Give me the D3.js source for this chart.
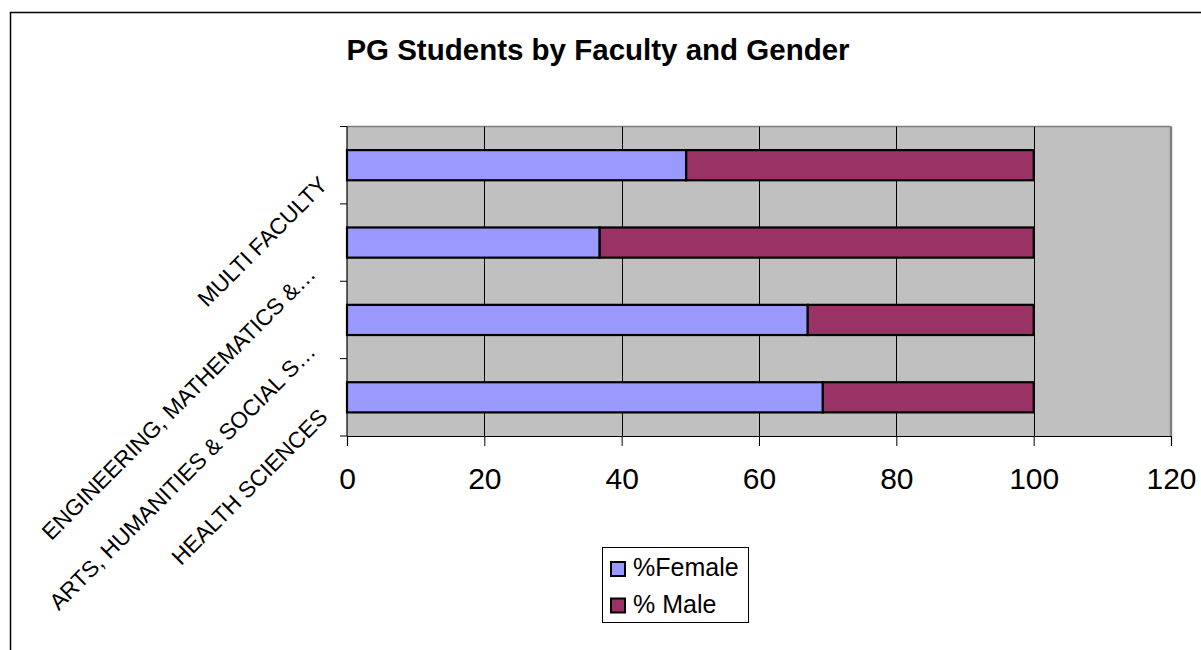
<!DOCTYPE html>
<html><head><meta charset="utf-8">
<script src="https://cdn.jsdelivr.net/npm/d3@7"></script>
<style>
html,body{margin:0;padding:0;background:#fff;}
svg{display:block;font-family:Arial,"Liberation Sans",sans-serif;}
</style></head>
<body>
<svg id="chart" width="1201" height="650"></svg>
<script>
const categories = ["MULTI FACULTY", "ENGINEERING, MATHEMATICS &…", "ARTS, HUMANITIES & SOCIAL S…", "HEALTH SCIENCES"];
const femaleValues = [49.4, 36.8, 67.1, 69.3];
const maleValues = [50.6, 63.2, 32.9, 30.7];
const seriesNames = ["%Female", "% Male"];
const seriesColors = ["#9999ff", "#993366"];
const xTicks = [0, 20, 40, 60, 80, 100, 120];
const title = "PG Students by Faculty and Gender";

const svg = d3.select("#chart");
const L = 347, R = 1171, T = 126.5, B = 436;

// outer frame
svg.append("rect").attr("x", 10.5).attr("y", 12.5).attr("width", 1300).attr("height", 800)
  .attr("fill", "none").attr("stroke", "#000").attr("stroke-width", 1.5);

svg.append("text").attr("x", 598).attr("y", 60).attr("text-anchor", "middle")
  .attr("font-size", 29.5).attr("font-weight", "bold").text(title);

const x = d3.scaleLinear().domain([0, 120]).range([L, R]);
const y = d3.scaleBand().domain(categories).range([T, B]).paddingInner(0.61).paddingOuter(0.305);

// plot area
svg.append("rect").attr("x", L).attr("y", T).attr("width", R - L).attr("height", B - T).attr("fill", "#c0c0c0");
svg.append("line").attr("x1", L).attr("x2", R).attr("y1", T).attr("y2", T).attr("stroke", "#808080").attr("stroke-width", 1.5);
svg.append("line").attr("x1", R).attr("x2", R).attr("y1", T).attr("y2", B).attr("stroke", "#808080").attr("stroke-width", 2.5);

// gridlines
svg.append("g").selectAll("line").data(xTicks.filter(d => d > 0 && d < 120)).join("line")
  .attr("x1", d => Math.round(x(d)) + 0.5).attr("x2", d => Math.round(x(d)) + 0.5)
  .attr("y1", T).attr("y2", B).attr("stroke", "#000").attr("stroke-width", 1);

// bars
const rows = categories.map((c, i) => ({cat: c, f: femaleValues[i], m: maleValues[i]}));
const stacked = d3.stack().keys(["f", "m"])(rows);
svg.append("g").selectAll("g").data(stacked).join("g")
  .attr("fill", (d, i) => seriesColors[i])
  .selectAll("rect").data(d => d).join("rect")
  .attr("x", d => x(d[0])).attr("width", d => x(d[1]) - x(d[0]))
  .attr("y", d => y(d.data.cat)).attr("height", y.bandwidth())
  .attr("stroke", "#000").attr("stroke-width", 2.2);

// x axis
const xAxis = svg.append("g").attr("transform", `translate(0,${B})`)
  .call(d3.axisBottom(x).tickValues(xTicks).tickSize(10).tickPadding(22).tickFormat(d3.format("d")));
xAxis.select(".domain").attr("stroke", "#000").attr("stroke-width", 1.2);
xAxis.selectAll(".tick line").attr("stroke", "#000");
xAxis.selectAll("text").attr("font-size", 30).attr("font-family", "Arial, 'Liberation Sans', sans-serif").attr("fill", "#000");

// y axis
const step = y.step();
const bounds = categories.map(c => y(c) + y.bandwidth() / 2 - step / 2).concat([B]);
svg.append("line").attr("x1", L).attr("x2", L).attr("y1", T).attr("y2", B).attr("stroke", "#000").attr("stroke-width", 1.2);
svg.append("g").selectAll("line").data(bounds).join("line")
  .attr("x1", L - 7).attr("x2", L).attr("y1", d => d).attr("y2", d => d).attr("stroke", "#000");

svg.append("g").selectAll("text").data(categories).join("text")
  .attr("transform", d => `translate(${L - 18},${y(d) + y.bandwidth() / 2 + 21}) rotate(-45)`)
  .attr("dx", d => d.endsWith("…") ? -17 : 0)
  .attr("text-anchor", "end").attr("font-size", 22.6).text(d => d);

// legend
const lg = svg.append("g");
lg.append("rect").attr("x", 602.5).attr("y", 547.5).attr("width", 146).attr("height", 75)
  .attr("fill", "#fff").attr("stroke", "#000").attr("stroke-width", 1);
seriesNames.forEach((n, i) => {
  const yy = 562 + i * 36.5;
  lg.append("rect").attr("x", 611).attr("y", yy).attr("width", 14).attr("height", 14)
    .attr("fill", seriesColors[i]).attr("stroke", "#000").attr("stroke-width", 2);
  lg.append("text").attr("x", 633).attr("y", yy + 14).attr("font-size", 25).text(n);
});
</script>
</body></html>
